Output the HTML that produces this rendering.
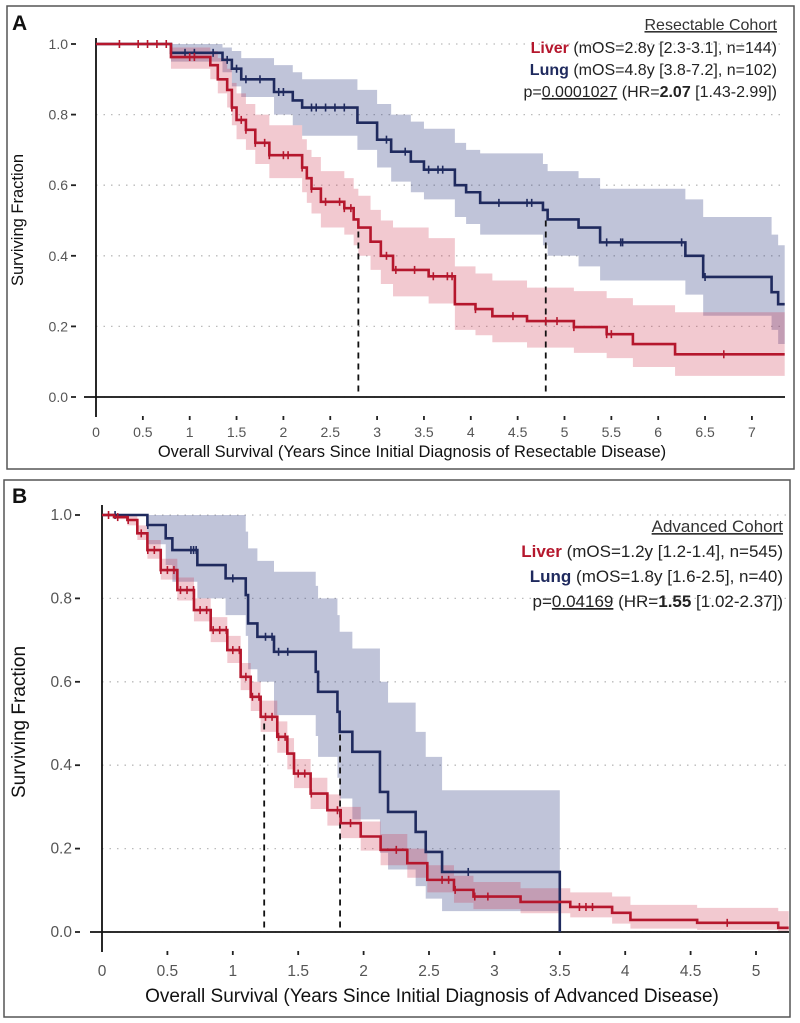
<!DOCTYPE html>
<html><head><meta charset="utf-8">
<style>
html,body{margin:0;padding:0;background:#fff;}
svg{display:block;font-family:"Liberation Sans",Arial,sans-serif;}
</style></head>
<body>
<svg id="chart" width="800" height="1023" viewBox="0 0 800 1023">
  <rect x="7" y="6" width="787" height="463" fill="none" stroke="#555" stroke-width="1.5"/>
  <rect x="4" y="480" width="786" height="537" fill="none" stroke="#555" stroke-width="1.5"/>
  <text x="12" y="30" font-size="21" font-weight="bold" fill="#111">A</text>
  <text x="12" y="503" font-size="21" font-weight="bold" fill="#111">B</text>
  <g id="pa"></g>
  <g id="pb"></g>

  <g font-size="16" text-anchor="end" fill="#222">
    <text x="777" y="30" text-decoration="underline" fill="#333">Resectable Cohort</text>
    <text x="777" y="53"><tspan font-weight="bold" fill="#b5172d">Liver</tspan> (mOS=2.8y [2.3-3.1], n=144)</text>
    <text x="777" y="75"><tspan font-weight="bold" fill="#1f2a5e">Lung</tspan> (mOS=4.8y [3.8-7.2], n=102)</text>
    <text x="777" y="97">p=<tspan text-decoration="underline">0.0001027</tspan> (HR=<tspan font-weight="bold">2.07</tspan> [1.43-2.99])</text>
  </g>
  <g font-size="17" text-anchor="end" fill="#222">
    <text x="783" y="532" text-decoration="underline" fill="#333">Advanced Cohort</text>
    <text x="783" y="557"><tspan font-weight="bold" fill="#b5172d">Liver</tspan> (mOS=1.2y [1.2-1.4], n=545)</text>
    <text x="783" y="582"><tspan font-weight="bold" fill="#1f2a5e">Lung</tspan> (mOS=1.8y [1.6-2.5], n=40)</text>
    <text x="783" y="607">p=<tspan text-decoration="underline">0.04169</tspan> (HR=<tspan font-weight="bold">1.55</tspan> [1.02-2.37])</text>
  </g>
  <text x="412" y="457" font-size="16.5" text-anchor="middle" fill="#111">Overall Survival (Years Since Initial Diagnosis of Resectable Disease)</text>
  <text x="432" y="1002" font-size="19" text-anchor="middle" fill="#111">Overall Survival (Years Since Initial Diagnosis of Advanced Disease)</text>
  <text transform="translate(23,220) rotate(-90)" font-size="16.5" text-anchor="middle" fill="#111">Surviving Fraction</text>
  <text transform="translate(25,722) rotate(-90)" font-size="19" text-anchor="middle" fill="#111">Surviving Fraction</text>
</svg>
<script>
// ---- Panel A data ----
const aXTicks = [0,0.5,1,1.5,2,2.5,3,3.5,4,4.5,5,5.5,6,6.5,7];
const aYTicks = [0,0.2,0.4,0.6,0.8,1.0];
const aLiverT = [0,0.8,1.22,1.3,1.4,1.45,1.5,1.6,1.7,1.85,2.2,2.25,2.3,2.4,2.65,2.75,2.8,2.93,3.04,3.17,3.55,3.83,4.05,4.23,4.6,5.1,5.45,5.73,6.18];
const aLiverS = [1,0.963,0.94,0.90,0.87,0.82,0.785,0.757,0.72,0.685,0.65,0.62,0.59,0.553,0.535,0.503,0.48,0.44,0.40,0.36,0.342,0.263,0.249,0.229,0.215,0.198,0.178,0.15,0.121];
const aLiverLo = [1,0.93,0.90,0.86,0.82,0.77,0.73,0.70,0.66,0.62,0.58,0.55,0.52,0.48,0.46,0.43,0.40,0.36,0.32,0.285,0.265,0.19,0.175,0.155,0.14,0.125,0.11,0.085,0.06];
const aLiverHi = [1,0.99,0.98,0.96,0.93,0.89,0.86,0.83,0.80,0.77,0.73,0.70,0.68,0.64,0.62,0.59,0.57,0.53,0.50,0.48,0.45,0.37,0.35,0.33,0.31,0.30,0.28,0.26,0.24];
const aLiverCens = [0.25,0.45,0.55,0.65,0.75,1.0,1.05,1.45,1.55,1.6,1.7,1.8,1.85,2.0,2.05,2.2,2.3,2.45,2.6,2.65,2.72,3.1,3.2,3.4,3.6,3.75,3.8,4.05,4.45,4.8,4.92,5.1,5.45,5.5,6.7];
const aLungT = [0,0.8,1.35,1.45,1.55,1.9,2.1,2.2,2.79,3.0,3.15,3.36,3.5,3.83,3.95,4.1,4.77,4.82,5.15,5.38,6.29,6.48,7.21,7.28];
const aLungS = [1,0.975,0.955,0.93,0.90,0.864,0.84,0.82,0.777,0.729,0.695,0.667,0.644,0.60,0.58,0.55,0.53,0.503,0.48,0.438,0.40,0.34,0.297,0.263];
const aLungLo = [1,0.95,0.92,0.88,0.85,0.80,0.77,0.74,0.70,0.65,0.61,0.58,0.56,0.51,0.49,0.46,0.43,0.40,0.37,0.33,0.29,0.23,0.19,0.15];
const aLungHi = [1,1,0.99,0.98,0.96,0.94,0.92,0.90,0.87,0.83,0.80,0.78,0.76,0.72,0.70,0.69,0.66,0.64,0.62,0.59,0.56,0.51,0.46,0.43];
const aLungCens = [0.95,1.05,1.25,1.4,1.5,1.6,1.75,1.95,2.0,2.3,2.35,2.45,2.55,2.65,3.1,3.3,3.55,3.65,3.7,4.3,4.6,4.65,5.45,5.6,5.62,6.25,6.5];
const aMedians = [2.8,4.8];

// ---- Panel B data ----
const bXTicks = [0,0.5,1,1.5,2,2.5,3,3.5,4,4.5,5];
const bYTicks = [0,0.2,0.4,0.6,0.8,1.0];
const bLiverT = [0,0.092,0.194,0.27,0.347,0.449,0.576,0.703,0.831,0.958,1.06,1.137,1.213,1.34,1.417,1.468,1.595,1.723,1.825,1.978,2.13,2.334,2.487,2.691,2.84,3.2,3.58,3.9,4.04,4.55,5.17];
const bLiverS = [1,0.995,0.988,0.956,0.916,0.868,0.82,0.772,0.724,0.676,0.612,0.564,0.516,0.468,0.428,0.38,0.332,0.292,0.261,0.229,0.197,0.165,0.125,0.101,0.085,0.072,0.06,0.046,0.029,0.022,0.01];
const bLiverLo = [1,0.99,0.975,0.94,0.895,0.845,0.795,0.745,0.695,0.645,0.58,0.53,0.48,0.43,0.39,0.345,0.295,0.255,0.225,0.195,0.16,0.13,0.095,0.07,0.055,0.045,0.035,0.02,0.008,0.005,0];
const bLiverHi = [1,1,1,0.975,0.94,0.895,0.85,0.80,0.755,0.71,0.645,0.60,0.555,0.505,0.465,0.415,0.37,0.33,0.30,0.265,0.235,0.20,0.16,0.135,0.12,0.105,0.095,0.085,0.065,0.058,0.05];
const bLiverCens = [0.05,0.12,0.2,0.3,0.35,0.4,0.45,0.5,0.55,0.6,0.65,0.7,0.75,0.8,0.85,0.9,0.95,1.0,1.05,1.1,1.15,1.2,1.25,1.3,1.35,1.4,1.5,1.55,1.6,1.8,1.9,2.25,2.6,2.65,2.7,2.85,2.95,3.65,3.7,3.75,4.78];
const bLungT = [0,0.347,0.487,0.538,0.729,0.945,1.099,1.117,1.188,1.315,1.634,1.652,1.80,1.817,1.914,2.125,2.187,2.398,2.475,2.60];
const bLungS = [1,0.976,0.944,0.916,0.88,0.848,0.808,0.74,0.708,0.672,0.624,0.576,0.528,0.48,0.432,0.336,0.288,0.24,0.192,0.144];
const bLungLo = [1,0.93,0.88,0.84,0.80,0.76,0.71,0.63,0.60,0.52,0.47,0.42,0.37,0.32,0.27,0.19,0.15,0.11,0.08,0.05];
const bLungHi = [1,1,1,1,1,1,0.96,0.92,0.89,0.864,0.83,0.80,0.76,0.72,0.68,0.60,0.55,0.48,0.42,0.34];
const bLungCens = [0.1,0.35,0.68,0.7,0.72,1.0,1.25,1.3,1.35,1.42,2.8];
const bMedians = [1.24,1.82];

const NS='http://www.w3.org/2000/svg';
function mk(parent,tag,attrs){const e=document.createElementNS(NS,tag);for(const k in attrs)e.setAttribute(k,attrs[k]);parent.appendChild(e);return e;}

function panel(g,cfg){
  const X=t=>cfg.x0+t*cfg.kx, Y=s=>cfg.y0-s*cfg.ky;
  cfg.yTicks.forEach(v=>{
    const l=mk(g,'line',{x1:cfg.x0,x2:cfg.xr,y1:Y(v),y2:Y(v),stroke:'#bbb','stroke-width':1.3,'stroke-dasharray':'1.5 6'});
    
    
    const t=mk(g,'text',{x:cfg.x0-cfg.lab,y:Y(v)+5,'font-size':cfg.fs,'text-anchor':'end',fill:'#555'});
    t.textContent=v.toFixed(1);
    
    
    const tk=mk(g,'line',{x1:cfg.x0-cfg.lab+3,x2:cfg.x0-cfg.lab+8,y1:Y(v),y2:Y(v),stroke:'#222','stroke-width':1.8});
    
    
  });
  function band(T,Lo,Hi,col,name){
    let up='',dn=[];
    for(let i=0;i<T.length;i++){const t1=i+1<T.length?T[i+1]:cfg.tEnd(name);
      up+=(i?'L':'M')+X(T[i])+','+Y(Hi[i])+'L'+X(t1)+','+Y(Hi[i]);
      dn.unshift('L'+X(t1)+','+Y(Lo[i])+'L'+X(T[i])+','+Y(Lo[i]));}
    const p=mk(g,'path',{d:up+dn.join('')+'Z',fill:col,stroke:'none'});
    
    
  }
  function curve(T,S,col,name,cens){
    let d='';
    for(let i=0;i<T.length;i++){
      d+=(i?'L'+X(T[i])+','+Y(S[i-1])+'L':'M')+X(T[i])+','+Y(S[i]);
    }
    const end=cfg.tEnd(name);
    d+='L'+X(end)+','+Y(S[S.length-1]);
    if(cfg.dropTo0&&cfg.dropTo0[name]) d+='L'+X(end)+','+Y(0);
    const p=mk(g,'path',{d:d,fill:'none',stroke:col,'stroke-width':2.6,'stroke-linejoin':'miter'});
    
    
    cens.forEach(c=>{
      let s=S[0];for(let i=0;i<T.length;i++)if(T[i]<=c)s=S[i];
      const m=mk(g,'line',{x1:X(c),x2:X(c),y1:Y(s)-4,y2:Y(s)+4,stroke:col,'stroke-width':1.6});
      
      
    });
  }
  band(cfg.lungT,cfg.lungLo,cfg.lungHi,'rgba(45,60,130,0.30)','lung');
  band(cfg.livT,cfg.livLo,cfg.livHi,'rgba(205,45,75,0.26)','liver');
  const ax=mk(g,'line',{x1:cfg.x0-12,x2:cfg.xr,y1:cfg.y0,y2:cfg.y0,stroke:'#111','stroke-width':1.8});
  
  
  const ay=mk(g,'line',{x1:cfg.x0,x2:cfg.x0,y1:cfg.yTop,y2:cfg.y0+20,stroke:'#111','stroke-width':1.8});
  
  
  cfg.medians.forEach(m=>{
    const l=mk(g,'line',{x1:X(m),x2:X(m),y1:Y(0.5),y2:cfg.y0,stroke:'#111','stroke-width':1.8,'stroke-dasharray':'6 5'});
    
    
  });
  curve(cfg.lungT,cfg.lungS,'#1f2a5e','lung',cfg.lungC);
  curve(cfg.livT,cfg.livS,'#b5172d','liver',cfg.livC);
  cfg.xTicks.forEach(v=>{
    if(v>0){const tk=mk(g,'line',{x1:X(v),x2:X(v),y1:cfg.y0+19,y2:cfg.y0+23,stroke:'#222','stroke-width':1.8});
    
    }
    const t=mk(g,'text',{x:X(v),y:cfg.y0+cfg.xlab,'font-size':cfg.fs,'text-anchor':'middle',fill:'#555'});
    t.textContent=String(v);
    
    
  });
}
panel(document.getElementById('pa'),{x0:96,kx:93.7,y0:397,ky:353,xr:785,yTop:38,lab:28,fs:14,xlab:40,
  tEnd:()=>7.35,xTicks:aXTicks,yTicks:aYTicks,medians:aMedians,
  livT:aLiverT,livS:aLiverS,livLo:aLiverLo,livHi:aLiverHi,livC:aLiverCens,
  lungT:aLungT,lungS:aLungS,lungLo:aLungLo,lungHi:aLungHi,lungC:aLungCens});
panel(document.getElementById('pb'),{x0:102,kx:130.8,y0:932,ky:417,xr:789,yTop:505,lab:30,fs:15.5,xlab:44,
  tEnd:n=>n==='lung'?3.5:5.25,dropTo0:{lung:true},xTicks:bXTicks,yTicks:bYTicks,medians:bMedians,
  livT:bLiverT,livS:bLiverS,livLo:bLiverLo,livHi:bLiverHi,livC:bLiverCens,
  lungT:bLungT,lungS:bLungS,lungLo:bLungLo,lungHi:bLungHi,lungC:bLungCens});
</script>
</body></html>
